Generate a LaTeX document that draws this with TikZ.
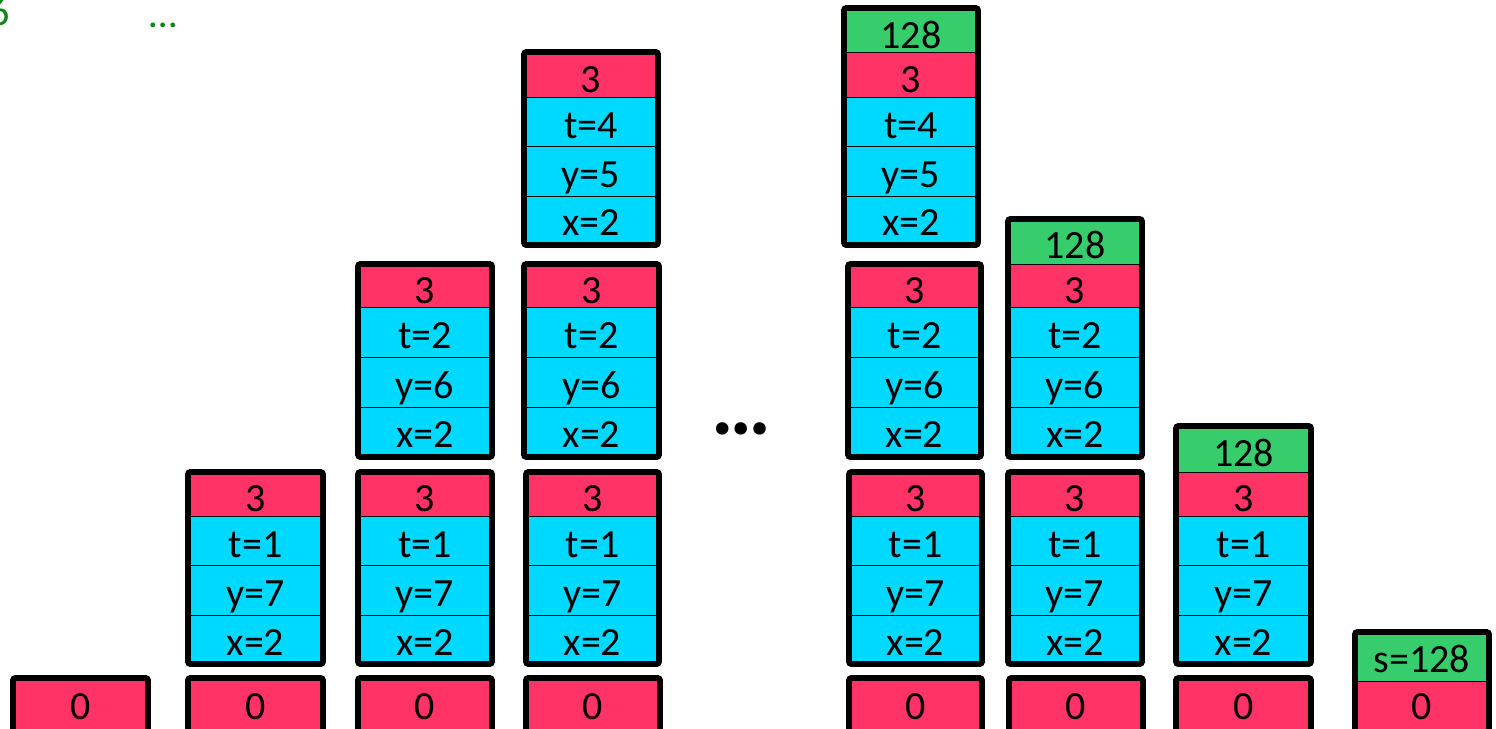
\documentclass[tikz,border=0pt]{standalone}
\usepackage{fontspec}
\setmainfont{Carlito}
\definecolor{redc}{RGB}{255,51,102}
\definecolor{bluec}{RGB}{0,217,255}
\definecolor{greenc}{RGB}{55,204,108}
\definecolor{labelgreen}{RGB}{10,135,20}
\tikzset{
  cellfill/.style={fill=#1, draw=black, line width=0.5pt},
  celltext/.style={inner sep=0pt, text height=12.6pt, text depth=0pt, font=\fontsize{20}{24}\selectfont},
  stackborder/.style={draw=black, line width=2.9pt, rounded corners=1.2pt},
  greenlabel/.style={inner sep=0pt, text=labelgreen, font=\fontsize{20}{24}\selectfont},
  bigdots/.style={inner sep=0pt, font=\fontsize{42}{48}\selectfont\bfseries},
}
\newcommand\cellbox[8]{%
  \path[cellfill=#7] (#2,#4) rectangle (#3,#5);
  \node[celltext] (#1) at ({(#2+#3)/2},#6) {#8};}
\newcommand\levelone[3]{%
  \cellbox{#1r}{#2}{#3}{472}{516}{499}{redc}{3}
  \cellbox{#1t}{#2}{#3}{516}{565}{545}{bluec}{t=1}
  \cellbox{#1y}{#2}{#3}{565}{615}{594}{bluec}{y=7}
  \cellbox{#1x}{#2}{#3}{615}{664}{643}{bluec}{x=2}}
\newcommand\leveltwo[3]{%
  \cellbox{#1r}{#2}{#3}{264}{307}{291}{redc}{3}
  \cellbox{#1t}{#2}{#3}{307}{357}{336}{bluec}{t=2}
  \cellbox{#1y}{#2}{#3}{357}{407}{386}{bluec}{y=6}
  \cellbox{#1x}{#2}{#3}{407}{457}{435}{bluec}{x=2}}
\newcommand\levelthree[3]{%
  \cellbox{#1r}{#2}{#3}{52}{97}{80}{redc}{3}
  \cellbox{#1t}{#2}{#3}{97}{146}{126}{bluec}{t=4}
  \cellbox{#1y}{#2}{#3}{146}{196}{175}{bluec}{y=5}
  \cellbox{#1x}{#2}{#3}{196}{245}{223}{bluec}{x=2}}
\newcommand\zerobox[3]{%
  \cellbox{#1}{#2}{#3}{678}{745}{707}{redc}{0}
  \draw[stackborder] (#2,678) rectangle (#3,745);}

\begin{document}
\begin{tikzpicture}[x=0.5pt,y=-0.5pt]
\useasboundingbox (0,0) rectangle (1496,729);
\clip (0,0) rectangle (1496,729);
\fill[white] (0,0) rectangle (1496,729);

% top-left labels
\node[greenlabel, anchor=east] (six) at (10,12.5) {6};
\node[greenlabel, anchor=base west] (gdots) at (149,27) {…};

% column 0
\zerobox{z0}{13}{148}

% column 1
\levelone{a1}{188}{323}
\draw[stackborder] (188,472) rectangle (323,664);
\zerobox{z1}{188}{323}

% column 2
\leveltwo{b2}{358}{492}
\draw[stackborder] (358,264) rectangle (492,457);
\levelone{a2}{358}{492}
\draw[stackborder] (358,472) rectangle (492,664);
\zerobox{z2}{358}{492}

% column 3
\levelthree{c3}{524}{658}
\draw[stackborder] (524,52) rectangle (658,245);
\leveltwo{b3}{524}{659}
\draw[stackborder] (524,264) rectangle (659,457);
\levelone{a3}{526}{659}
\draw[stackborder] (526,472) rectangle (659,664);
\zerobox{z3}{526}{660}

% middle dots
\node[bigdots, anchor=base] (mdots) at (741,434) {…};

% column 4
\cellbox{c4g}{844}{978}{8}{52}{36}{greenc}{128}
\levelthree{c4}{844}{978}
\draw[stackborder] (844,8) rectangle (978,245);
\leveltwo{b4}{848}{981}
\draw[stackborder] (848,264) rectangle (981,457);
\levelone{a4}{849}{982}
\draw[stackborder] (849,472) rectangle (982,664);
\zerobox{z4}{849}{982}

% column 5
\cellbox{b5g}{1008}{1142}{219}{264}{246}{greenc}{128}
\leveltwo{b5}{1008}{1142}
\draw[stackborder] (1008,219) rectangle (1142,457);
\levelone{a5}{1008}{1142}
\draw[stackborder] (1008,472) rectangle (1142,664);
\zerobox{z5}{1009}{1143}

% column 6
\cellbox{a6g}{1176}{1311}{426}{472}{454}{greenc}{128}
\levelone{a6}{1176}{1311}
\draw[stackborder] (1176,426) rectangle (1311,664);
\zerobox{z6}{1176}{1311}

% column 7
\cellbox{s7}{1355}{1489}{632}{681}{660}{greenc}{s=128}
\cellbox{z7}{1355}{1489}{681}{745}{707}{redc}{0}
\draw[stackborder] (1355,632) rectangle (1489,745);
\end{tikzpicture}
\end{document}
